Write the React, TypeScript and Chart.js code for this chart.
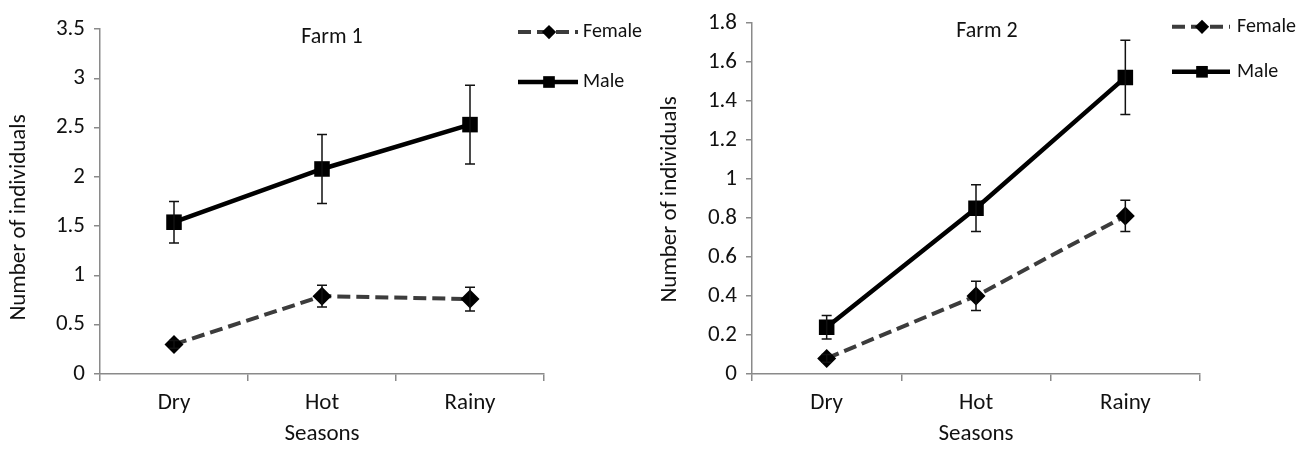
import React, { useEffect, useRef } from "react";
import { Chart, registerables } from "chart.js";

Chart.register(...registerables);

// ---------- data ----------
const seasons = ["Dry", "Hot", "Rainy"];

const farm1Female = [0.3, 0.79, 0.76];
const farm1FemaleErr = [0.04, 0.11, 0.12];
const farm1Male = [1.54, 2.08, 2.53];
const farm1MaleErr = [0.21, 0.35, 0.4];
const farm1YTicks = [0, 0.5, 1, 1.5, 2, 2.5, 3, 3.5];

const farm2Female = [0.08, 0.4, 0.81];
const farm2FemaleErr = [0.02, 0.075, 0.08];
const farm2Male = [0.24, 0.85, 1.52];
const farm2MaleErr = [0.06, 0.12, 0.19];
const farm2YTicks = [0, 0.2, 0.4, 0.6, 0.8, 1, 1.2, 1.4, 1.6, 1.8];

const seriesLabels = ["Female", "Male"];

// ---------- style ----------
const FONT = "Carlito, Lato, 'Liberation Sans', sans-serif";
const TEXT = "#111111";
const AXIS = "#8a8a8a";

const errorBarPlugin = {
  id: "errorBars",
  afterDatasetsDraw(chart: any) {
    const ctx = chart.ctx;
    const yScale = chart.scales.y;
    chart.data.datasets.forEach((ds: any, i: number) => {
      if (!ds.errors) return;
      const meta = chart.getDatasetMeta(i);
      ctx.save();
      ctx.strokeStyle = "#111";
      ctx.lineWidth = 1.5;
      meta.data.forEach((el: any, j: number) => {
        const v = ds.data[j];
        const e = ds.errors[j];
        const x = el.x;
        const yt = yScale.getPixelForValue(v + e);
        const yb = yScale.getPixelForValue(v - e);
        ctx.beginPath();
        ctx.moveTo(x, yt);
        ctx.lineTo(x, yb);
        ctx.moveTo(x - 5, yt);
        ctx.lineTo(x + 5, yt);
        ctx.moveTo(x - 5, yb);
        ctx.lineTo(x + 5, yb);
        ctx.stroke();
      });
      ctx.restore();
    });
  },
};

const decorPlugin = {
  id: "decor",
  afterDraw(chart: any, _args: any, opts: any) {
    const ctx = chart.ctx;
    const a = chart.chartArea;
    ctx.save();
    // title inside plot
    ctx.fillStyle = TEXT;
    ctx.font = `${opts.titleSize}px ${FONT}`;
    ctx.textAlign = "center";
    ctx.textBaseline = "middle";
    ctx.fillText(opts.title, (a.left + a.right) / 2 + opts.titleDx, a.top + opts.titleDy);

    // y axis title
    ctx.save();
    ctx.translate(opts.yTitleX, (a.top + a.bottom) / 2 + opts.yTitleDy);
    ctx.rotate(-Math.PI / 2);
    ctx.font = `${opts.axisTitleSize}px ${FONT}`;
    ctx.fillText(opts.yTitle, 0, 0);
    ctx.restore();

    // legend
    chart.data.datasets.forEach((ds: any, i: number) => {
      const y = a.top + opts.legendY[i];
      const x0 = a.right + opts.legendX0;
      const x1 = a.right + opts.legendX1;
      const mx = a.right + opts.legendMarkerX;
      ctx.save();
      ctx.strokeStyle = ds.borderColor;
      ctx.lineWidth = ds.borderWidth;
      ctx.setLineDash(ds.borderDash || []);
      ctx.beginPath();
      ctx.moveTo(x0, y);
      ctx.lineTo(x1, y);
      ctx.stroke();
      ctx.restore();
      ctx.save();
      ctx.fillStyle = ds.pointBackgroundColor;
      const r = ds.pointRadius * 0.75;
      ctx.beginPath();
      if (ds.pointStyle === "rectRot") {
        ctx.moveTo(mx, y - r);
        ctx.lineTo(mx + r, y);
        ctx.lineTo(mx, y + r);
        ctx.lineTo(mx - r, y);
        ctx.closePath();
      } else {
        const s = r * Math.SQRT1_2;
        ctx.rect(mx - s, y - s, 2 * s, 2 * s);
      }
      ctx.fill();
      ctx.restore();
      ctx.fillStyle = TEXT;
      ctx.font = `${opts.legendSize}px ${FONT}`;
      ctx.textAlign = "left";
      ctx.textBaseline = "middle";
      ctx.fillText(ds.label, a.right + opts.legendTextX, y);
    });
    ctx.restore();
  },
};

function makeConfig(
  female: number[],
  femaleErr: number[],
  male: number[],
  maleErr: number[],
  yTicks: number[],
  layoutOpts: any,
  decor: any
) {
  const tickFont = { family: FONT, size: 23 };
  return {
    type: "line" as const,
    data: {
      labels: seasons,
      datasets: [
        {
          label: seriesLabels[0],
          data: female,
          errors: femaleErr,
          borderColor: "#3c3c3c",
          borderWidth: 4,
          borderDash: [13, 6],
          pointStyle: "rectRot",
          pointRadius: 9.5,
          pointBackgroundColor: "#000",
          pointBorderColor: "#000",
          pointBorderWidth: 0,
          fill: false,
          tension: 0,
        },
        {
          label: seriesLabels[1],
          data: male,
          errors: maleErr,
          borderColor: "#000000",
          borderWidth: 4.5,
          pointStyle: "rect",
          pointRadius: 11,
          pointBackgroundColor: "#000",
          pointBorderColor: "#000",
          pointBorderWidth: 0,
          fill: false,
          tension: 0,
        },
      ],
    },
    options: {
      animation: false,
      responsive: true,
      maintainAspectRatio: false,
      layout: { padding: layoutOpts.padding },
      plugins: {
        legend: { display: false },
        title: { display: false },
        tooltip: { enabled: false },
        decor,
      },
      scales: {
        x: {
          type: "category",
          offset: true,
          grid: {
            offset: true,
            drawOnChartArea: false,
            drawTicks: true,
            tickLength: 7,
            color: AXIS,
            lineWidth: 1.5,
          },
          border: { color: AXIS, width: 1.5 },
          ticks: { padding: 8, font: tickFont, color: TEXT },
          title: {
            display: true,
            text: "Seasons",
            font: { family: FONT, size: 23 },
            color: TEXT,
            padding: { top: 0, bottom: 1 },
          },
          afterFit: (s: any) => {
            s.height = layoutOpts.xHeight;
          },
        },
        y: {
          min: yTicks[0],
          max: yTicks[yTicks.length - 1],
          afterBuildTicks: (s: any) => {
            s.ticks = yTicks.map((v) => ({ value: v }));
          },
          grid: {
            drawOnChartArea: false,
            drawTicks: true,
            tickLength: 6,
            color: AXIS,
            lineWidth: 1.5,
          },
          border: { color: AXIS, width: 1.5 },
          ticks: {
            padding: 9,
            font: tickFont,
            color: TEXT,
            callback: (v: any) => String(v),
          },
          afterFit: (s: any) => {
            s.width = layoutOpts.yWidth;
          },
        },
      },
    },
    plugins: [errorBarPlugin, decorPlugin],
  };
}

function FarmChart(props: any) {
  const ref = useRef<HTMLCanvasElement | null>(null);
  useEffect(() => {
    if (!ref.current) return;
    const chart = new Chart(ref.current, props.config as any);
    return () => chart.destroy();
  }, []);
  return (
    <div
      style={{
        position: "absolute",
        left: props.left,
        top: 0,
        width: props.width,
        height: 449,
      }}
    >
      <canvas ref={ref} />
    </div>
  );
}

export default function App() {
  const config1 = makeConfig(
    farm1Female,
    farm1FemaleErr,
    farm1Male,
    farm1MaleErr,
    farm1YTicks,
    { padding: { left: 0, right: 106, top: 29, bottom: 0 }, xHeight: 75, yWidth: 100 },
    {
      title: "Farm 1",
      titleSize: 22,
      titleDx: 10,
      titleDy: 8,
      yTitle: "Number of individuals",
      yTitleX: 19,
      yTitleDy: 16,
      axisTitleSize: 23,
      legendY: [3, 53],
      legendX0: -26,
      legendX1: 34,
      legendMarkerX: 5,
      legendTextX: 39,
      legendSize: 20,
    }
  );
  const config2 = makeConfig(
    farm2Female,
    farm2FemaleErr,
    farm2Male,
    farm2MaleErr,
    farm2YTicks,
    { padding: { left: 0, right: 108, top: 19, bottom: 0 }, xHeight: 75, yWidth: 102 },
    {
      title: "Farm 2",
      titleSize: 22,
      titleDx: 11,
      titleDy: 9,
      yTitle: "Number of individuals",
      yTitleX: 20,
      yTitleDy: 1,
      axisTitleSize: 23,
      legendY: [4, 49],
      legendX0: -28,
      legendX1: 30,
      legendMarkerX: 2,
      legendTextX: 37,
      legendSize: 20,
    }
  );
  return (
    <div
      style={{
        position: "absolute",
        left: 0,
        top: 0,
        width: 1308,
        height: 449,
        background: "#fff",
        overflow: "hidden",
      }}
    >
      <FarmChart left={0} width={650} config={config1} />
      <FarmChart left={650} width={658} config={config2} />
    </div>
  );
}
